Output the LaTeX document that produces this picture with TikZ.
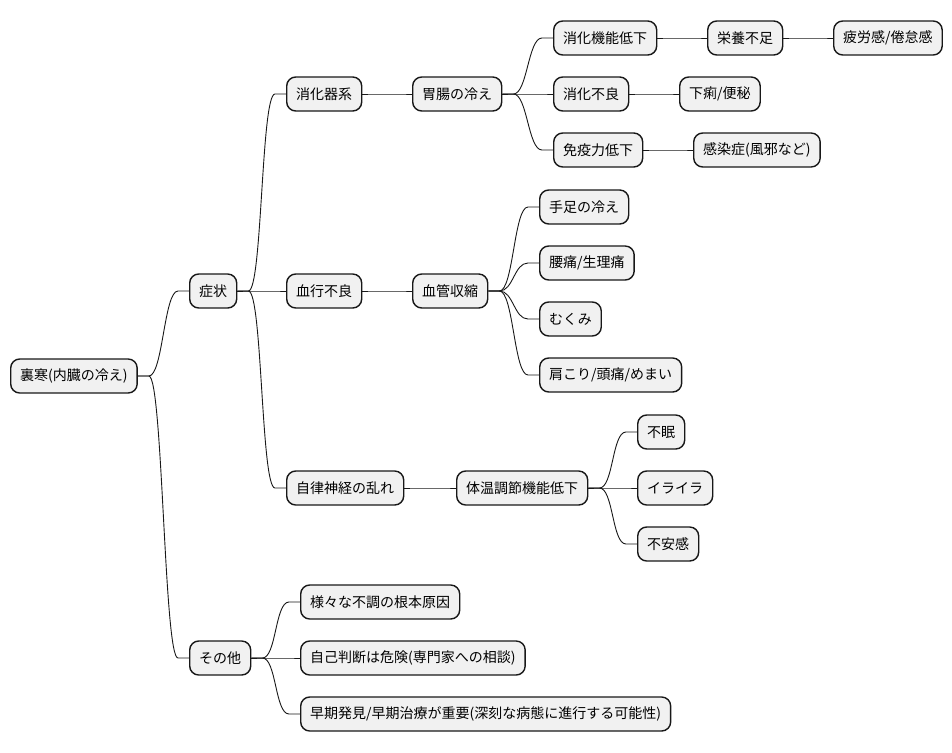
\documentclass[tikz,border=0pt]{standalone}
\usepackage{fontspec}
\setmainfont{Noto Sans CJK JP}
\usepackage{xcolor}
\usepackage{tikz}
\usetikzlibrary{calc}
\definecolor{mmfill}{HTML}{F1F1F1}
\definecolor{mmline}{HTML}{181818}

\begin{document}
\begin{tikzpicture}[
  x=1pt, y=-1pt,
  mm/.style={rectangle, draw=mmline, fill=mmfill, line width=1.4pt, rounded corners=9pt,
    anchor=west, minimum height=34pt, inner xsep=9.5pt, font=\fontsize{14}{16}\selectfont},
  link/.style={mmline, line width=0.9pt},
]
  \useasboundingbox (0,0) rectangle (952,752);

  \node[mm] (root) at (10,376) {裏寒(内臓の冷え)};
  \node[mm] (sympt) at (189,291) {症状};
  \node[mm] (other) at (189,658) {その他};

  \node[mm] (digest) at (286,94) {消化器系};
  \node[mm] (blood) at (286,291) {血行不良};
  \node[mm] (nerve) at (286,488) {自律神経の乱れ};

  \node[mm] (gutcold) at (412,94) {胃腸の冷え};
  \node[mm] (vessel) at (412,291) {血管収縮};
  \node[mm] (thermo) at (456,488) {体温調節機能低下};

  \node[mm] (digfunc) at (553,38) {消化機能低下};
  \node[mm] (indig) at (553,94) {消化不良};
  \node[mm] (immune) at (553,150) {免疫力低下};
  \node[mm] (nutri) at (707,38) {栄養不足};
  \node[mm] (fatigue) at (833,38) {疲労感/倦怠感};
  \node[mm] (diarrhea) at (679,94) {下痢/便秘};
  \node[mm] (infect) at (693,150) {感染症(風邪など)};

  \node[mm] (limbs) at (539,207) {手足の冷え};
  \node[mm] (backpain) at (539,263) {腰痛/生理痛};
  \node[mm] (swelling) at (539,319) {むくみ};
  \node[mm] (shoulder) at (539,375) {肩こり/頭痛/めまい};

  \node[mm] (insomnia) at (637,432) {不眠};
  \node[mm] (irritate) at (637,488) {イライラ};
  \node[mm] (anxiety) at (637,544) {不安感};

  \node[mm] (cause) at (300,602) {様々な不調の根本原因};
  \node[mm] (selfjudge) at (300,658) {自己判断は危険(専門家への相談)};
  \node[mm] (early) at (300,714) {早期発見/早期治療が重要(深刻な病態に進行する可能性)};

  % branches
  \foreach \a/\b in {root/sympt, root/other, sympt/digest, sympt/blood, sympt/nerve,
      digest/gutcold, blood/vessel, nerve/thermo,
      gutcold/digfunc, gutcold/indig, gutcold/immune,
      digfunc/nutri, nutri/fatigue, indig/diarrhea, immune/infect,
      vessel/limbs, vessel/backpain, vessel/swelling, vessel/shoulder,
      thermo/insomnia, thermo/irritate, thermo/anxiety,
      other/cause, other/selfjudge, other/early}
    \draw[link] (\a.east) -- ++(11,0) .. controls +(14,0) and +(-14,0) .. ($(\b.west)+(-11,0)$) -- (\b.west);
\end{tikzpicture}
\end{document}
